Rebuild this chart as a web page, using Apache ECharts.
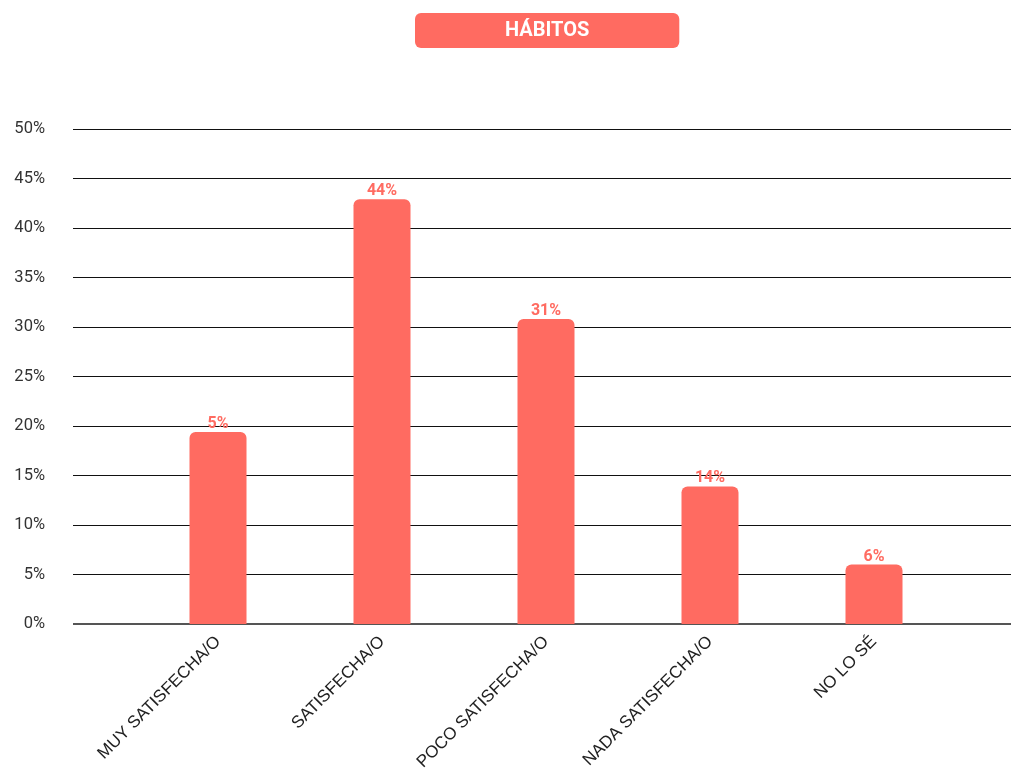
<!DOCTYPE html>
<html>
<head>
<meta charset="utf-8">
<script src="https://cdn.jsdelivr.net/npm/echarts@6/dist/echarts.min.js"></script>
<style>
html,body{margin:0;padding:0;background:#fff;}
#c{width:1011px;height:769px;}
</style>
</head>
<body>
<div id="c"></div>
<script>
const titleText = 'HÁBITOS';
const categories = ['MUY SATISFECHA/O', 'SATISFECHA/O', 'POCO SATISFECHA/O', 'NADA SATISFECHA/O', 'NO LO SÉ'];
const barValues = [19.4, 42.9, 30.8, 13.9, 6.0];
const labelTexts = ['5%', '44%', '31%', '14%', '6%'];
const yMin = 0, yMax = 50, yStep = 5;

const RED = '#FF6B61';
const chart = echarts.init(document.getElementById('c'), null, {renderer: 'canvas'});
chart.setOption({
  animation: false,
  backgroundColor: '#fff',
  title: {
    text: titleText,
    left: 415,
    top: 13,
    backgroundColor: RED,
    borderRadius: 6,
    padding: [8, 90, 7, 90],
    textStyle: {color: '#fff', fontFamily: 'Roboto', fontWeight: 'bold', fontSize: 20, lineHeight: 20}
  },
  grid: [
    {left: 73, right: 0, top: 129, bottom: 145, outerBoundsMode: 'none', containLabel: false},
    {left: 136, right: 55, top: 129, bottom: 145, outerBoundsMode: 'none', containLabel: false}
  ],
  xAxis: [
    {gridIndex: 0, type: 'value', show: false, min: 0, max: 1},
    {
      gridIndex: 1, type: 'category', data: categories,
      axisLine: {show: false},
      axisTick: {show: false},
      axisLabel: {rotate: 45, interval: 0, margin: 15, color: '#222', fontFamily: 'Liberation Sans', fontSize: 17}
    }
  ],
  yAxis: [
    {
      gridIndex: 0, type: 'value', min: yMin, max: yMax, interval: yStep,
      axisLine: {show: false}, axisTick: {show: false},
      axisLabel: {formatter: v => v + '%', color: '#333', fontFamily: 'Roboto', fontSize: 16.5, margin: 28},
      splitLine: {lineStyle: {color: '#111', width: 1}}
    },
    {
      gridIndex: 1, type: 'value', min: yMin, max: yMax, interval: yStep, show: false
    }
  ],
  series: [
    {
      type: 'line', xAxisIndex: 0, yAxisIndex: 0,
      data: [[0, 0], [1, 0]], symbol: 'none', silent: true,
      lineStyle: {color: '#555', width: 2}, z: 1
    },
    {
      type: 'bar', xAxisIndex: 1, yAxisIndex: 1,
      data: barValues, barWidth: 57, z: 3,
      itemStyle: {color: RED, borderRadius: [6, 6, 0, 0]},
      label: {
        show: true, position: 'top', distance: 0,
        formatter: p => labelTexts[p.dataIndex],
        color: RED, fontFamily: 'Roboto', fontWeight: 'bold', fontSize: 16
      }
    }
  ]
});
</script>
</body>
</html>
